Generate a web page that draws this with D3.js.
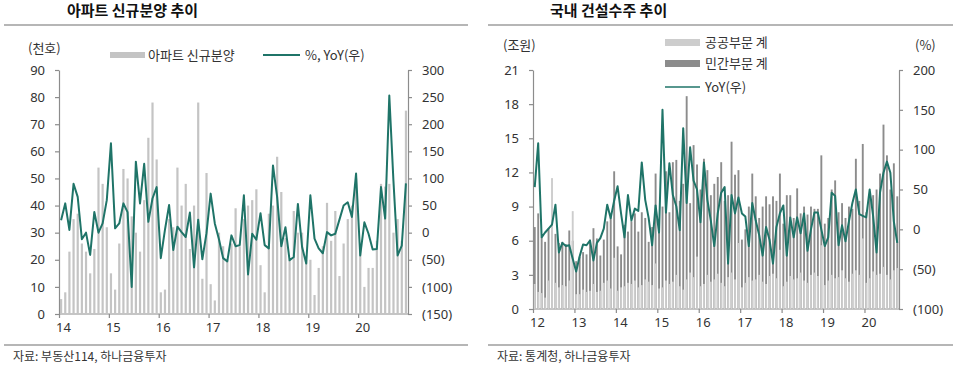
<!DOCTYPE html>
<html>
<head>
<meta charset="utf-8">
<script src="https://cdn.jsdelivr.net/npm/d3@7/dist/d3.min.js"></script>
<style>
  body { margin: 0; background: #fff; }
  svg { font-family: "Noto Sans CJK KR", "Noto Sans", sans-serif; }
</style>
</head>
<body>
<svg id="chart" width="960" height="367"></svg>
<script>
// ---- left chart: 아파트 신규분양 (천호), YoY (%) ----
var aptYears = ["14", "15", "16", "17", "18", "19", "20"];
var aptSupply = [
  5.5, 8, 23, 35, 37, 26, 23, 15, 24, 54, 48, 32,
  15, 9, 26, 53.5, 50, 36, 30, 23, 42, 65, 78, 57,
  8, 9, 35, 32, 54, 40, 48, 24, 40, 78, 13, 52,
  11, 5, 30, 25, 20, 26, 39, 25, 35, 40, 42, 46,
  18, 8, 37, 40, 58, 45, 28, 20, 38, 30, 30, 20,
  20, 7, 17, 25, 41, 27, 38, 14, 26, 35, 40, 50,
  24, 10, 17, 17, 27, 48, 47, 48, 30, 35, 27, 75
];
var aptYoY = [
  23, 54, 5, 90, 66, -12, 0, -41, 38, 0, 17, 60,
  165, 8, 17, 54, 38, -100, 131, 54, 127, 20, 63, 84,
  -47, 5, 51, -32, 11, 1, -8, 37, -64, 24, -49, -1,
  72, 17, -12, -47, -53, -5, -25, -23, 69, -77, -2, -13,
  36, -23, -29, 124, 66, -25, 10, -51, -45, 53, -26, -57,
  69, -11, -29, -38, 1, -5, -2, 24, 50, 56, 29, 109,
  -42, 19, -2, -31, -30, 84, 26, 253, 95, -42, -24, 91
];
var aptLeftTicks = [0, 10, 20, 30, 40, 50, 60, 70, 80, 90];
var aptRightTicks = [-150, -100, -50, 0, 50, 100, 150, 200, 250, 300];

// ---- right chart: 국내 건설수주 (조원), YoY (%) ----
var conYears = ["12", "13", "14", "15", "16", "17", "18", "19", "20"];
var conPublic = [
  2.2, 1.5, 1.4, 1.0, 2.5, 11.5, 2.3, 1.9, 2.1, 2.0, 2.5, 8.6,
  1.3, 1.3, 1.7, 1.5, 1.6, 2.2, 1.5, 1.6, 2.3, 2.5, 1.8, 4.5,
  1.6, 1.9, 2.0, 2.3, 2.2, 2.5, 1.9, 2.1, 2.6, 2.4, 2.1, 4.0,
  1.8, 1.9, 2.5, 2.2, 2.4, 3.0, 2.0, 1.7, 2.6, 3.2, 2.8, 4.6,
  2.0, 2.2, 3.0, 2.4, 2.6, 3.1, 2.3, 2.0, 2.8, 3.2, 2.6, 5.8,
  1.9, 2.3, 2.8, 2.5, 2.6, 3.0, 2.4, 2.2, 2.9, 3.1, 2.7, 5.2,
  2.0, 2.4, 2.9, 2.6, 2.7, 3.2, 2.5, 2.3, 3.0, 3.2, 2.9, 5.6,
  2.1, 2.5, 3.0, 2.7, 2.8, 3.4, 2.7, 2.4, 3.1, 3.4, 3.0, 6.2,
  2.3, 2.7, 3.3, 3.0, 3.1, 3.7, 3.0, 2.6, 3.4, 3.6
];
var conPrivate = [
  7.2, 8.4, 6.3, 5.9, 7.1, 6.9, 6.6, 5.8, 5.9, 5.7, 6.9, 6.0,
  4.2, 4.6, 5.0, 4.8, 6.1, 7.1, 6.2, 4.7, 6.1, 7.7, 8.1, 12.1,
  5.5, 4.8, 7.4, 6.8, 7.7, 8.4, 6.8, 8.5, 8.0, 5.9, 7.2, 11.9,
  7.1, 9.0, 12.1, 8.5, 12.9, 13.1, 9.5, 11.0, 18.7, 9.3, 14.4, 12.7,
  10.5, 13.2, 12.2, 10.0, 11.0, 11.6, 12.9, 9.5, 10.0, 14.7, 11.8, 12.2,
  6.1, 7.0, 9.0, 11.9, 9.9, 8.0, 9.0, 9.9, 9.2, 9.9, 9.5, 11.9,
  7.5, 10.0, 10.0, 8.0, 10.6, 8.4, 9.0, 8.3, 9.0, 8.8, 8.8, 13.5,
  7.5, 8.0, 10.5, 11.3, 8.5, 9.3, 8.0, 9.0, 8.8, 13.2, 9.5, 14.5,
  8.5, 9.9, 10.0, 10.5, 11.9, 16.2, 13.5, 10.5, 12.8, 9.9
];
var conYoY = [
  53, 108, -10, -4, 1, 6, 31, -29, -17, -21, -20, -37,
  -53, -34, -19, -20, -14, -39, -17, -11, 1, 31, 14, 36,
  54, 20, -10, 43, 11, 26, 23, 84, 37, 14, -20, 30,
  -4, 150, 21, 83, 43, 29, -1, 127, 33, 103, 61, 50,
  9, 84, 37, 11, -21, 20, 46, 53, -43, 43, 20, 40,
  20, 16, -21, 33, 11, -7, -33, 3, -13, -43, 3, 20,
  30, -33, 15, -10, 15, -5, 20, -27, 0, 21, 21, 0,
  -21, -10, 46, 42, -20, 5, -15, 10, 33, 50, 19, 17,
  15, 50, 17, -29, 46, 71, 85, 71, 10, -17
];
var conLeftTicks = [0, 3, 6, 9, 12, 15, 18, 21];
var conRightTicks = [-100, -50, 0, 50, 100, 150, 200];

var teal = "#1f7468";
var axisColor = "#8c8c8c";
var textColor = "#333";

var svg = d3.select("#chart");

function paren(v) {
  return v < 0 ? "(" + Math.abs(v) + ")" : String(v);
}

// draws one panel: axes, ticks, labels; returns the scales
function drawFrame(opt) {
  var g = svg.append("g");
  var yL = d3.scaleLinear().domain(opt.leftDomain).range([opt.bottom, opt.top]);
  var yR = d3.scaleLinear().domain(opt.rightDomain).range([opt.bottom, opt.top]);
  var months = d3.range(opt.count);
  var x = d3.scaleBand().domain(months).range([opt.left, opt.left + opt.count * opt.monthW]).paddingInner(0);

  // title + rules
  g.append("text").attr("x", opt.titleX).attr("y", 16)
    .attr("font-size", 15).attr("font-weight", "bold").attr("fill", "#111")
    .text(opt.title);
  g.append("line").attr("x1", opt.ruleX1).attr("x2", opt.ruleX2)
    .attr("y1", 25).attr("y2", 25).attr("stroke", "#6e6e6e").attr("stroke-width", 1.2);
  g.append("line").attr("x1", opt.ruleX1).attr("x2", opt.ruleX2)
    .attr("y1", 345).attr("y2", 345).attr("stroke", "#6e6e6e").attr("stroke-width", 1.2);
  g.append("text").attr("x", opt.ruleX1 + 9).attr("y", 361)
    .attr("font-size", 12).attr("fill", textColor).text(opt.source);

  // left axis
  var gl = g.append("g").attr("transform", "translate(" + opt.left + ",0)")
    .call(d3.axisLeft(yL).tickValues(opt.leftTicks).tickSize(4).tickPadding(10).tickSizeOuter(0));
  // right axis
  var gr = g.append("g").attr("transform", "translate(" + opt.right + ",0)")
    .call(d3.axisRight(yR).tickValues(opt.rightTicks).tickSize(4).tickPadding(10)
      .tickSizeOuter(0).tickFormat(paren));
  // bottom axis with year ticks
  var yearScale = d3.scaleLinear().domain([0, opt.count]).range([opt.left, opt.left + opt.count * opt.monthW]);
  var yearPos = opt.years.map(function (d, i) { return i * 12; });
  var gb = g.append("g").attr("transform", "translate(0," + opt.bottom + ")")
    .call(d3.axisBottom(yearScale).tickValues(yearPos).tickSize(4).tickPadding(5).tickSizeOuter(0)
      .tickFormat(function (d, i) { return opt.years[i]; }));
  gb.select(".domain").attr("d", "M" + opt.left + ",0H" + opt.right);
  gb.selectAll(".tick text").attr("dx", 4);

  [gl, gr, gb].forEach(function (a) {
    a.select(".domain").attr("stroke", axisColor).attr("stroke-width", 1.2);
    a.selectAll(".tick line").attr("stroke", axisColor).attr("stroke-width", 1.2);
    a.selectAll(".tick text").attr("fill", textColor).attr("font-size", 13)
      .attr("font-family", "\"Noto Sans\", \"Noto Sans CJK KR\", sans-serif");
  });
  return { g: g, x: x, yL: yL, yR: yR };
}

// ---------- left panel ----------
var A = drawFrame({
  title: "아파트 신규분양 추이", titleX: 67, ruleX1: 4, ruleX2: 468,
  source: "자료: 부동산114, 하나금융투자",
  left: 59, right: 408, top: 70, bottom: 314, count: aptSupply.length, monthW: 349 / 84,
  leftDomain: [0, 90], rightDomain: [-150, 300],
  leftTicks: aptLeftTicks, rightTicks: aptRightTicks, years: aptYears
});

A.g.append("g").selectAll("rect").data(aptSupply).enter().append("rect")
  .attr("x", function (d, i) { return A.x(i) + 1.0; })
  .attr("width", 2.2)
  .attr("y", function (d) { return A.yL(d); })
  .attr("height", function (d) { return A.yL(0) - A.yL(d); })
  .attr("fill", "#c4c4c4");

A.g.append("path").datum(aptYoY)
  .attr("fill", "none").attr("stroke", teal).attr("stroke-width", 2)
  .attr("stroke-linejoin", "round")
  .attr("d", d3.line()
    .x(function (d, i) { return A.x(i) + A.x.bandwidth() / 2; })
    .y(function (d) { return A.yR(d); }));

A.g.append("text").attr("x", 28).attr("y", 53).attr("font-size", 13).attr("fill", textColor).text("(천호)");
A.g.append("rect").attr("x", 110).attr("y", 52).attr("width", 35).attr("height", 6).attr("fill", "#c4c4c4");
A.g.append("text").attr("x", 148).attr("y", 60).attr("font-size", 13).attr("fill", textColor).text("아파트 신규분양");
A.g.append("line").attr("x1", 263).attr("x2", 300).attr("y1", 55).attr("y2", 55).attr("stroke", teal).attr("stroke-width", 2);
A.g.append("text").attr("x", 305).attr("y", 60).attr("font-size", 13).attr("fill", textColor).text("%, YoY(우)");

// ---------- right panel ----------
var B = drawFrame({
  title: "국내 건설수주 추이", titleX: 550, ruleX1: 488, ruleX2: 953,
  source: "자료: 통계청, 하나금융투자",
  left: 533, right: 899, top: 70, bottom: 309, count: conPrivate.length, monthW: 366 / 106,
  leftDomain: [0, 21], rightDomain: [-100, 200],
  leftTicks: conLeftTicks, rightTicks: conRightTicks, years: conYears
});

// private drawn behind, public overlapped in front
B.g.append("g").selectAll("rect").data(conPrivate).enter().append("rect")
  .attr("x", function (d, i) { return B.x(i) + 0.8; })
  .attr("width", 1.9)
  .attr("y", function (d) { return B.yL(d); })
  .attr("height", function (d) { return B.yL(0) - B.yL(d); })
  .attr("fill", "#8c8c8c");
B.g.append("g").selectAll("rect").data(conPublic).enter().append("rect")
  .attr("x", function (d, i) { return B.x(i) + 0.8; })
  .attr("width", 1.9)
  .attr("y", function (d) { return B.yL(d); })
  .attr("height", function (d) { return B.yL(0) - B.yL(d); })
  .attr("fill", "#cdcdcd");

B.g.append("path").datum(conYoY)
  .attr("fill", "none").attr("stroke", teal).attr("stroke-width", 2)
  .attr("stroke-linejoin", "round")
  .attr("d", d3.line()
    .x(function (d, i) { return B.x(i) + B.x.bandwidth() / 2; })
    .y(function (d) { return B.yR(d); }));

B.g.append("text").attr("x", 503).attr("y", 50).attr("font-size", 13).attr("fill", textColor).text("(조원)");
B.g.append("text").attr("x", 915).attr("y", 50).attr("font-size", 13).attr("fill", textColor).text("(%)");
B.g.append("rect").attr("x", 665).attr("y", 39).attr("width", 35).attr("height", 7).attr("fill", "#cdcdcd");
B.g.append("text").attr("x", 705).attr("y", 47).attr("font-size", 13).attr("fill", textColor).text("공공부문 계");
B.g.append("rect").attr("x", 665).attr("y", 60).attr("width", 35).attr("height", 7).attr("fill", "#8c8c8c");
B.g.append("text").attr("x", 705).attr("y", 68).attr("font-size", 13).attr("fill", textColor).text("민간부문 계");
B.g.append("line").attr("x1", 665).attr("x2", 700).attr("y1", 87).attr("y2", 87).attr("stroke", teal).attr("stroke-width", 1.6);
B.g.append("text").attr("x", 705).attr("y", 92).attr("font-size", 13).attr("fill", textColor).text("YoY(우)");
</script>
</body>
</html>
